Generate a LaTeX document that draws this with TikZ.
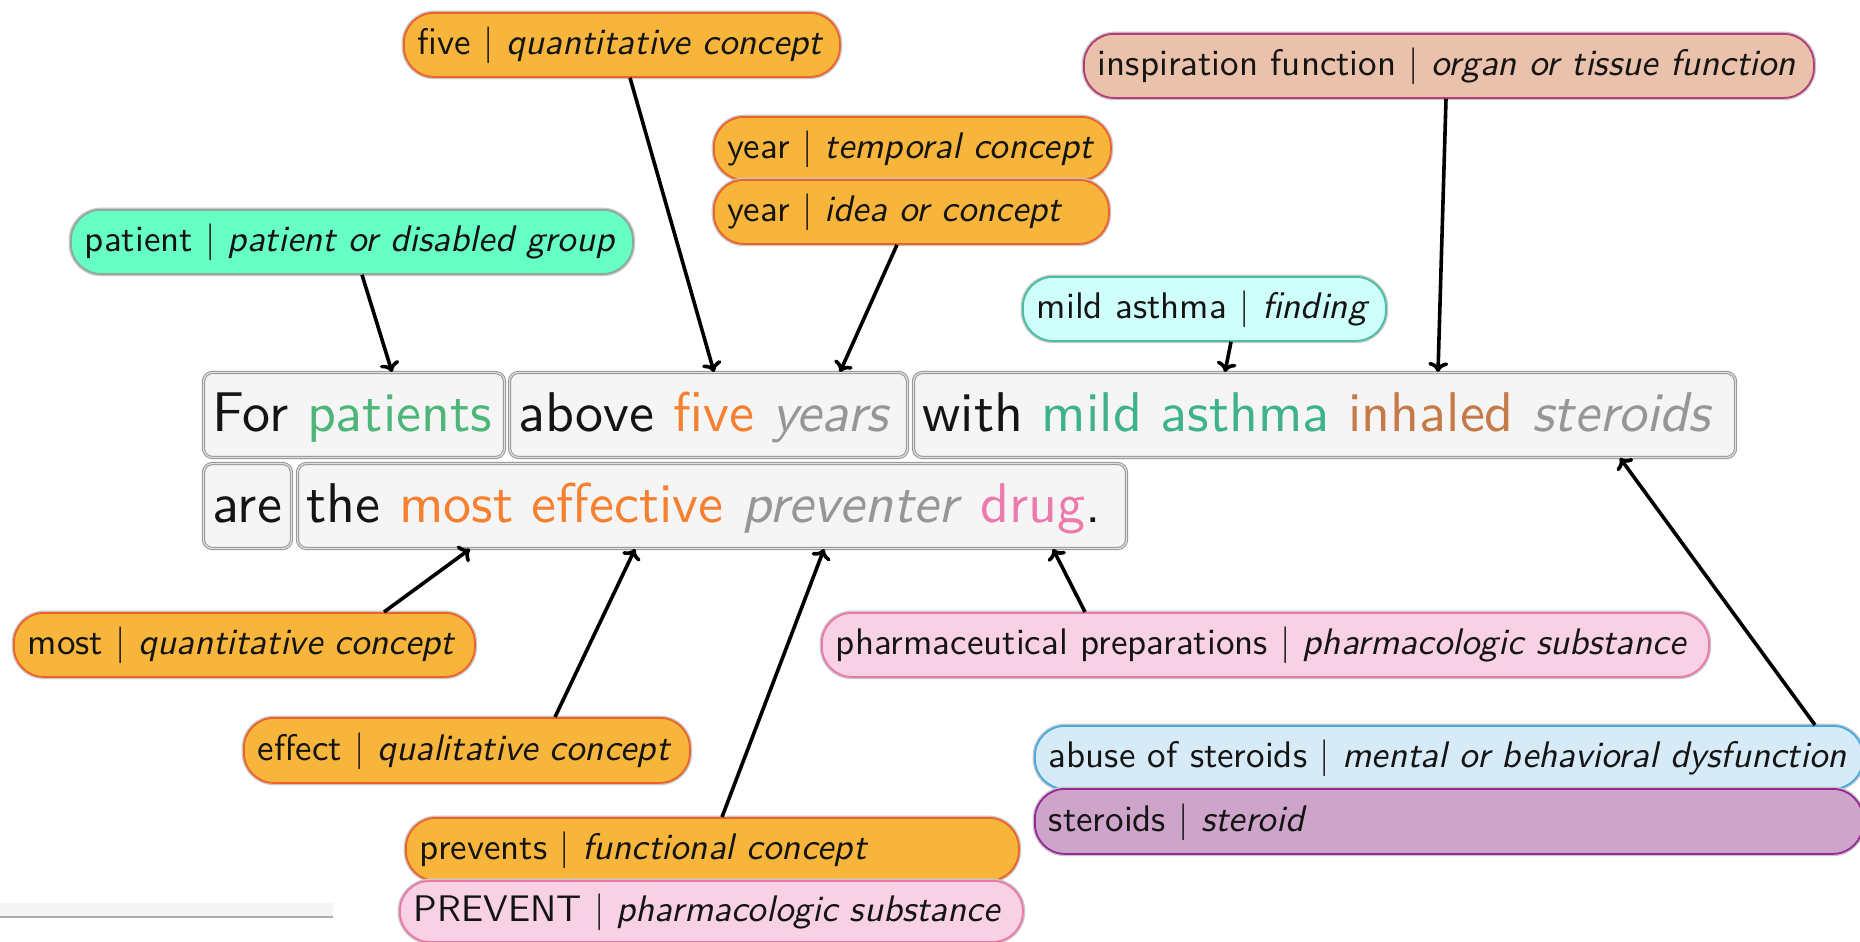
\documentclass[tikz,border=0pt]{standalone}
\usepackage{fontspec}
\setsansfont{lmsans10-regular.otf}[ItalicFont=lmsans10-oblique.otf]
\usetikzlibrary{arrows.meta}

% label colours
\definecolor{orfill}{RGB}{248,181,60}
\definecolor{ordraw}{RGB}{238,98,42}
\definecolor{mintfill}{RGB}{102,255,196}
\definecolor{mintdraw}{RGB}{140,170,155}
\definecolor{cyanfill}{RGB}{206,255,250}
\definecolor{cyandraw}{RGB}{70,190,160}
\definecolor{peachfill}{RGB}{234,193,171}
\definecolor{peachdraw}{RGB}{180,60,120}
\definecolor{pinkfill}{RGB}{249,209,228}
\definecolor{pinkdraw}{RGB}{236,120,170}
\definecolor{bluefill}{RGB}{214,234,248}
\definecolor{bluedraw}{RGB}{70,170,225}
\definecolor{plumfill}{RGB}{206,164,203}
\definecolor{plumdraw}{RGB}{150,40,150}
% word colours
\definecolor{wgreen}{RGB}{78,182,120}
\definecolor{worange}{RGB}{244,128,48}
\definecolor{wgrey}{RGB}{150,150,150}
\definecolor{wteal}{RGB}{62,178,140}
\definecolor{wbrown}{RGB}{198,122,72}
\definecolor{wpink}{RGB}{236,122,172}
\definecolor{ink}{RGB}{20,20,20}

% pill-shaped concept label: name, colour style, x1, y1, x2, y2, text
\newcommand\pill[7]{%
  \pgfmathsetmacro\nw{#5-#3}%
  \pgfmathsetmacro\nh{#6-#4}%
  \pgfmathsetmacro\tw{#5-#3-28}%
  \node[pillbox, #2, anchor=north west, minimum width=\nw pt,
        minimum height=\nh pt, text width=\tw pt] (#1) at (#3,#4) {#7};}
% sentence chunk box: name, x1, y1, x2, y2, text
\newcommand\wordbox[6]{%
  \pgfmathsetmacro\nw{#4-#2}%
  \pgfmathsetmacro\nh{#5-#3}%
  \pgfmathsetmacro\tw{#4-#2-18}%
  \node[chunk, anchor=north west, minimum width=\nw pt,
        minimum height=\nh pt, text width=\tw pt] (#1) at (#2,#3) {#6};}

\begin{document}
\begin{tikzpicture}[x=1pt, y=-1pt,
  pillbox/.style={rounded corners=30pt, line width=1.8pt,
    preaction={draw=black!22, line width=4.5pt},
    inner xsep=14pt, inner ysep=0pt, align=left,
    text height=28pt, text depth=8pt, text=ink,
    font=\sffamily\fontsize{37}{40}\selectfont},
  orange/.style={fill=orfill, draw=ordraw},
  mint/.style={fill=mintfill, draw=mintdraw},
  cyanish/.style={fill=cyanfill, draw=cyandraw},
  peach/.style={fill=peachfill, draw=peachdraw},
  pinkish/.style={fill=pinkfill, draw=pinkdraw},
  bluish/.style={fill=bluefill, draw=bluedraw},
  plum/.style={fill=plumfill, draw=plumdraw},
  chunk/.style={draw=black!42, double=black!12, double distance=1.2pt,
    line width=1pt, fill=black!4, rounded corners=9pt,
    inner xsep=9pt, inner ysep=0pt, align=left,
    text height=44pt, text depth=12pt, text=ink,
    font=\sffamily\fontsize{56}{60}\selectfont},
  link/.style={draw=black, line width=3.6pt,
    -{To[length=10pt, width=20pt]}}]

\clip (0,0) rectangle (1860,942);
\fill[white] (0,0) rectangle (1860,942);

% sentence, first line
\wordbox{for}{203}{372}{504}{457}{For \textcolor{wgreen}{patients}}
\wordbox{above}{509}{372}{907}{457}{above \textcolor{worange}{five} \textcolor{wgrey}{\textit{years}}}
\wordbox{with}{913}{372}{1735}{457}{with \textcolor{wteal}{mild asthma} \textcolor{wbrown}{inhaled} \textcolor{wgrey}{\textit{steroids}}}
% sentence, second line
\wordbox{are}{203}{463}{291}{548}{are}
\wordbox{the}{297}{463}{1126}{548}{the \textcolor{worange}{most effective} \textcolor{wgrey}{\textit{preventer}} \textcolor{wpink}{drug}.}

% concept labels above the sentence
\pill{five}{orange}{403}{12}{839}{76}{five | \textit{quantitative concept}}
\pill{yeartemp}{orange}{713}{116}{1110}{179}{year | \textit{temporal concept}}
\pill{yearidea}{orange}{713}{179}{1108}{243}{year | \textit{idea or concept}}
\pill{insp}{peach}{1083}{33}{1813}{97}{inspiration function | \textit{organ or tissue function}}
\pill{patient}{mint}{70}{209}{632}{273}{patient | \textit{patient or disabled group}}
\pill{mild}{cyanish}{1022}{276}{1385}{340}{mild asthma | \textit{finding}}

% concept labels below the sentence
\pill{most}{orange}{13}{612}{474}{676}{most | \textit{quantitative concept}}
\pill{effect}{orange}{243}{717}{689}{782}{effect | \textit{qualitative concept}}
\pill{pharm}{pinkish}{821}{612}{1708}{676}{pharmaceutical preparations | \textit{pharmacologic substance}}
\pill{prevents}{orange}{405}{817}{1018}{880}{prevents | \textit{functional concept}}
\pill{prevent}{pinkish}{399}{880}{1022}{941}{PREVENT | \textit{pharmacologic substance}}
\pill{abuse}{bluish}{1034}{725}{1862}{788}{abuse of steroids | \textit{mental or behavioral dysfunction}}
\pill{steroids}{plum}{1034}{788}{1862}{853}{steroids | \textit{steroid}}

% links from labels to the words they annotate
\draw[link] (patient.south -| 362,0) -- (for.north -| 392,0);
\draw[link] (five.south -| 630,0) -- (above.north -| 714,0);
\draw[link] (yearidea.south -| 897,0) -- (above.north -| 840,0);
\draw[link] (mild.south -| 1231,0) -- (with.north -| 1225,0);
\draw[link] (insp.south -| 1446,0) -- (with.north -| 1438,0);
\draw[link] (most.north -| 384,0) -- (the.south -| 470,0);
\draw[link] (effect.north -| 555,0) -- (the.south -| 635,0);
\draw[link] (prevents.north -| 722,0) -- (the.south -| 824,0);
\draw[link] (pharm.north -| 1085,0) -- (the.south -| 1053,0);
\draw[link] (abuse.north -| 1815,0) -- (with.south -| 1620,0);

% rule at the lower left
\fill[black!4] (0,903) rectangle (333,916);
\draw[black!32, line width=2pt] (0,917) -- (333,917);

\end{tikzpicture}
\end{document}
